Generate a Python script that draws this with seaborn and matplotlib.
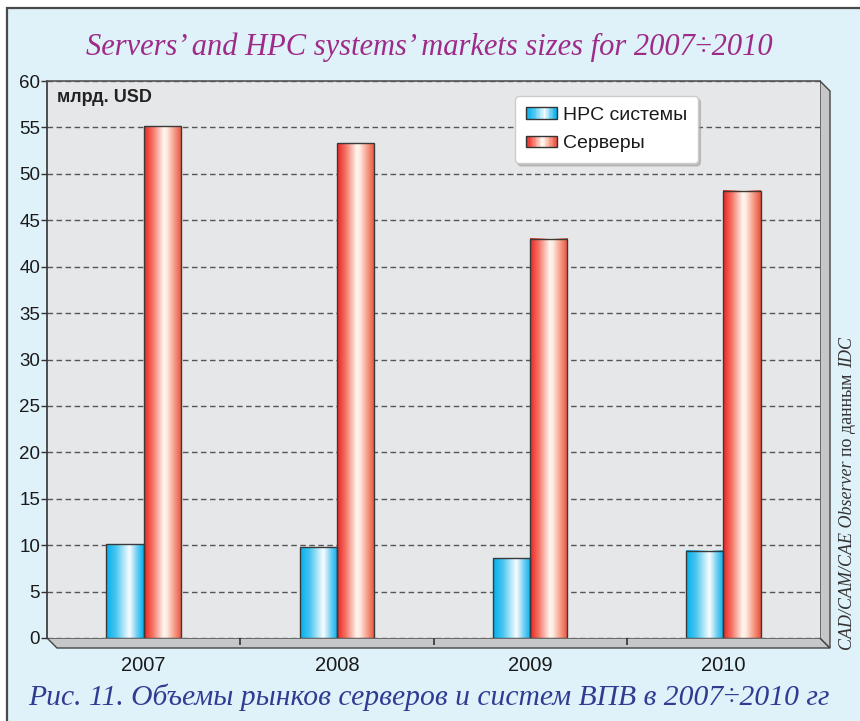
import numpy as np
import pandas as pd
import matplotlib
matplotlib.use("Agg")
import matplotlib.pyplot as plt
import seaborn as sns
from matplotlib.patches import Rectangle, Polygon
from matplotlib.legend_handler import HandlerBase

# ---------------- data ----------------
years = ["2007", "2008", "2009", "2010"]
hpc_values = [10.1, 9.8, 8.6, 9.4]
server_values = [55.1, 53.3, 43.0, 48.2]
series_names = ["HPC системы", "Серверы"]
y_ticks = list(range(0, 61, 5))

title_text = "Servers\u2019 and HPC systems\u2019 markets sizes for 2007\u00f72010"
caption_text = "Рис. 11. Объемы рынков серверов и систем ВПВ в 2007\u00f72010 гг"
unit_text = "млрд. USD"
source_parts = [("CAD/CAM/CAE Observer", "italic"), ("по данным", "normal"), ("IDC", "italic")]

# ---------------- styling ----------------
sns.set_theme(style="white")
plt.rcParams["font.family"] = ["Liberation Sans", "DejaVu Sans"]

W, H = 860, 721
fig = plt.figure(figsize=(W / 100, H / 100), dpi=100)
fig.patch.set_facecolor("white")


def fx(px):
    return px / W


def fy(py):
    return 1 - py / H


RED_STOPS = [(0.0, (236, 35, 36)), (0.22, (243, 112, 96)), (0.52, (255, 246, 240)),
             (0.60, (255, 236, 226)), (0.85, (243, 138, 115)), (1.0, (232, 80, 62))]
BLUE_STOPS = [(0.0, (0, 176, 236)), (0.25, (70, 196, 240)), (0.62, (250, 253, 255)),
              (0.82, (110, 206, 242)), (1.0, (0, 176, 236))]


def grad_colors(stops, n):
    pos = np.array([s[0] for s in stops])
    cols = np.array([s[1] for s in stops], dtype=float) / 255.0
    t = np.linspace(0, 1, n)
    return np.stack([np.interp(t, pos, cols[:, c]) for c in range(3)], axis=1)


# background panel with frame
bg = Rectangle((fx(7), -0.1), 1.2, fy(8) + 0.1, transform=fig.transFigure,
               facecolor="#DFF2FA", edgecolor="#4a4a4a", lw=1.6, zorder=0)
fig.patches.append(bg)

# 3D floor and right wall
floor = Polygon([(fx(47), fy(638)), (fx(57), fy(648)), (fx(830), fy(648)), (fx(820), fy(638))],
                closed=True, transform=fig.transFigure, facecolor="#C6C7C9",
                edgecolor="#444444", lw=1.0, zorder=1)
wall = Polygon([(fx(820), fy(81)), (fx(830), fy(91)), (fx(830), fy(648)), (fx(820), fy(638))],
               closed=True, transform=fig.transFigure, facecolor="#C6C7C9",
               edgecolor="#444444", lw=1.0, zorder=1)
fig.patches.extend([floor, wall])

ax = fig.add_axes([fx(47), fy(638), (820 - 47) / W, (638 - 81) / H])
ax.set_zorder(2)
ax.set_facecolor("#E6E7E9")

df = pd.DataFrame({
    "year": years * 2,
    "series": [series_names[0]] * len(years) + [series_names[1]] * len(years),
    "value": hpc_values + server_values,
})

palette = {series_names[0]: "#00B0EC", series_names[1]: "#EC2324"}
sns.barplot(data=df, x="year", y="value", hue="series", hue_order=series_names,
            palette=palette, width=0.385, gap=0, edgecolor="#3a3a3a", linewidth=1.0,
            legend=False, ax=ax)

blue_img = grad_colors(BLUE_STOPS, 128)[None, :, :]
red_img = grad_colors(RED_STOPS, 128)[None, :, :]
for p in list(ax.patches):
    x0, y0 = p.get_x(), p.get_y()
    w, h = p.get_width(), p.get_height()
    if h <= 0:
        continue
    fc = p.get_facecolor()
    img = blue_img if fc[2] > fc[0] else red_img
    ax.imshow(img, extent=[x0, x0 + w, y0, y0 + h], aspect="auto",
              interpolation="bilinear", zorder=2.0)
    p.set_facecolor("none")
    p.set_zorder(2.5)

ax.set_xlim(-0.5, len(years) - 0.5)
ax.set_ylim(0, 60)
ax.set_yticks(y_ticks)
ax.set_yticklabels([str(v) for v in y_ticks])
ax.set_xlabel("")
ax.set_ylabel("")

ax.yaxis.grid(True, linestyle=(0, (4, 2.5)), color="#555555", lw=1.0)
ax.xaxis.grid(False)
ax.set_axisbelow(True)

for side in ["right", "bottom"]:
    ax.spines[side].set_visible(False)
ax.spines["left"].set_color("#333333")
ax.spines["left"].set_linewidth(1.2)
ax.spines["top"].set_color("#555555")
ax.spines["top"].set_linewidth(1.2)

ax.tick_params(axis="y", direction="out", length=4, width=1, color="#333333",
               labelsize=13.5, pad=1, labelcolor="#1a1a1a", left=True)
ax.tick_params(axis="x", which="major", length=0, pad=13, labelsize=14.5, labelcolor="#1a1a1a")
ax.set_xticks([i + 0.5 for i in range(len(years) - 1)], minor=True)
ax.tick_params(axis="x", which="minor", direction="out", length=5, width=1.2,
               color="#333333", bottom=True)

# unit label
fig.text(fx(57), fy(97), unit_text, ha="left", va="center", fontsize=13,
         fontweight="bold", color="#222222", zorder=5)


# legend with gradient swatches
class GradHandler(HandlerBase):
    def __init__(self, stops):
        super().__init__()
        self.stops = stops

    def create_artists(self, legend, orig_handle, xdescent, ydescent, width, height,
                       fontsize, trans):
        n = 24
        cols = grad_colors(self.stops, n)
        arts = []
        for i, c in enumerate(cols):
            arts.append(Rectangle((-xdescent + width * i / n, -ydescent), width / n * 1.05,
                                  height, facecolor=c, edgecolor="none", transform=trans))
        arts.append(Rectangle((-xdescent, -ydescent), width, height, facecolor="none",
                              edgecolor="#333333", lw=1.0, transform=trans))
        return arts


h1 = Rectangle((0, 0), 1, 1)
h2 = Rectangle((0, 0), 1, 1)
leg = ax.legend([h1, h2], series_names,
                handler_map={h1: GradHandler(BLUE_STOPS), h2: GradHandler(RED_STOPS)},
                loc="upper left", bbox_to_anchor=(fx(515), fy(96)),
                bbox_transform=fig.transFigure, fontsize=14, frameon=True,
                fancybox=True, facecolor="white", edgecolor="#cccccc", framealpha=1,
                handlelength=1.6, handleheight=0.55, handletextpad=0.3,
                labelspacing=0.6, borderpad=0.55, borderaxespad=0,
                shadow={"color": "#999999", "alpha": 0.5, "ox": 2, "oy": -2})
for t in leg.get_texts():
    t.set_color("#1a1a1a")

# title and caption
fig.text(fx(429), fy(47), title_text, ha="center", va="center", fontsize=22,
         style="italic", family=["Liberation Serif", "DejaVu Serif"], color="#9E2B88", zorder=5)
fig.text(fx(429), fy(697), caption_text, ha="center", va="center", fontsize=21.3,
         style="italic", family=["Liberation Serif", "DejaVu Serif"], color="#2F3C92", zorder=5)

# vertical source note
renderer = fig.canvas.get_renderer()
ypos = fy(650)
for txt, st in source_parts:
    t = fig.text(fx(848), ypos, txt, rotation=90, ha="center", va="bottom", fontsize=13,
                 style=st, family=["Liberation Serif", "DejaVu Serif"], color="#333333", zorder=5)
    bb = t.get_window_extent(renderer=renderer)
    ypos = (bb.y1 + 5) / H

fig.savefig("out.png", dpi=100, facecolor=fig.get_facecolor())
